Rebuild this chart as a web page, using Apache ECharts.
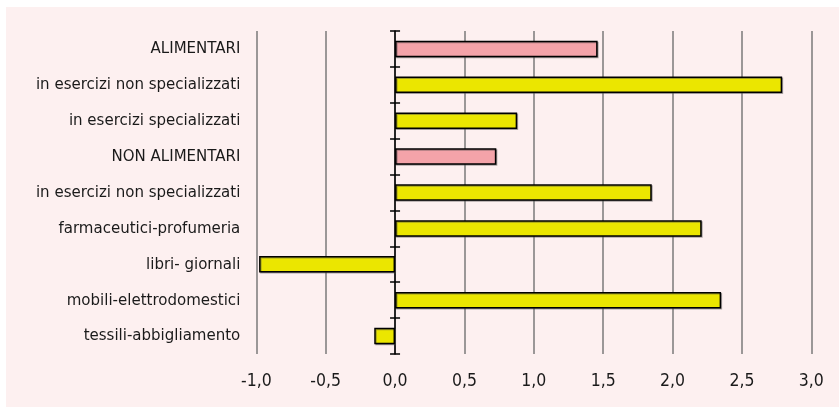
<!DOCTYPE html>
<html>
<head>
<meta charset="utf-8">
<script src="https://cdn.jsdelivr.net/npm/echarts@6/dist/echarts.min.js"></script>
<style>
  html, body { margin: 0; padding: 0; background: #ffffff; }
  #chart { position: absolute; left: 6px; top: 7px; width: 833px; height: 400px; background: #fdf0f0; }
</style>
</head>
<body>
<div id="chart"></div>
<script>
// Variazioni percentuali delle vendite per settore merceologico
const categories = [
  'ALIMENTARI',
  'in esercizi non specializzati',
  'in esercizi specializzati',
  'NON ALIMENTARI',
  'in esercizi non specializzati',
  'farmaceutici-profumeria',
  'libri- giornali',
  'mobili-elettrodomestici',
  'tessili-abbigliamento'
];
const values = [1.46, 2.79, 0.88, 0.73, 1.85, 2.21, -0.98, 2.35, -0.15];
// rows that are sector totals (drawn in pink)
const totalRows = ['ALIMENTARI', 'NON ALIMENTARI'];
const xMin = -1.0, xMax = 3.0, xStep = 0.5;

const fmt = v => v.toFixed(1).replace('.', ',');
const FONT = '"DejaVu Sans Condensed", "Liberation Sans", sans-serif';

const chart = echarts.init(document.getElementById('chart'));
chart.setOption({
  animation: false,
  grid: { left: 250.3, right: 27.7, top: 24, bottom: 53, containLabel: false },
  xAxis: {
    type: 'value',
    min: xMin, max: xMax, interval: xStep,
    axisLine: { show: false },
    axisTick: { show: false },
    splitLine: { show: true, lineStyle: { color: '#7a7a7a', width: 1.5 } },
    axisLabel: { formatter: fmt, color: '#1a1a1a', fontFamily: FONT, fontSize: 17.5, margin: 18 }
  },
  yAxis: [
    {
      type: 'category', inverse: true, data: categories, position: 'left',
      axisLine: { show: false, onZero: false },
      axisTick: { show: false },
      splitLine: { show: false },
      axisLabel: { color: '#1a1a1a', fontFamily: FONT, fontSize: 16.7, margin: 16 }
    },
    {
      type: 'category', inverse: true, data: categories, position: 'left',
      axisLine: { show: true, onZero: true, onZeroAxisIndex: 0, lineStyle: { color: '#000', width: 1.5 } },
      axisTick: { show: true, inside: false, length: 5, lineStyle: { color: '#000', width: 1.5 } },
      axisLabel: { show: false },
      splitLine: { show: false }
    },
    {
      type: 'category', inverse: true, data: categories, position: 'left',
      axisLine: { show: false, onZero: true, onZeroAxisIndex: 0 },
      axisTick: { show: true, inside: true, length: 5, lineStyle: { color: '#000', width: 1.5 } },
      axisLabel: { show: false },
      splitLine: { show: false }
    }
  ],
  series: [{
    type: 'bar',
    yAxisIndex: 0,
    barWidth: '46%',
    data: values.map((v, i) => ({
      value: v,
      itemStyle: { color: totalRows.includes(categories[i]) ? '#f4a3a9' : '#ebe600' }
    })),
    itemStyle: {
      borderColor: '#000',
      borderWidth: 1.5,
      shadowColor: 'rgba(70,70,70,0.45)',
      shadowOffsetX: 1,
      shadowOffsetY: 1,
      shadowBlur: 0
    }
  }]
});
</script>
</body>
</html>
